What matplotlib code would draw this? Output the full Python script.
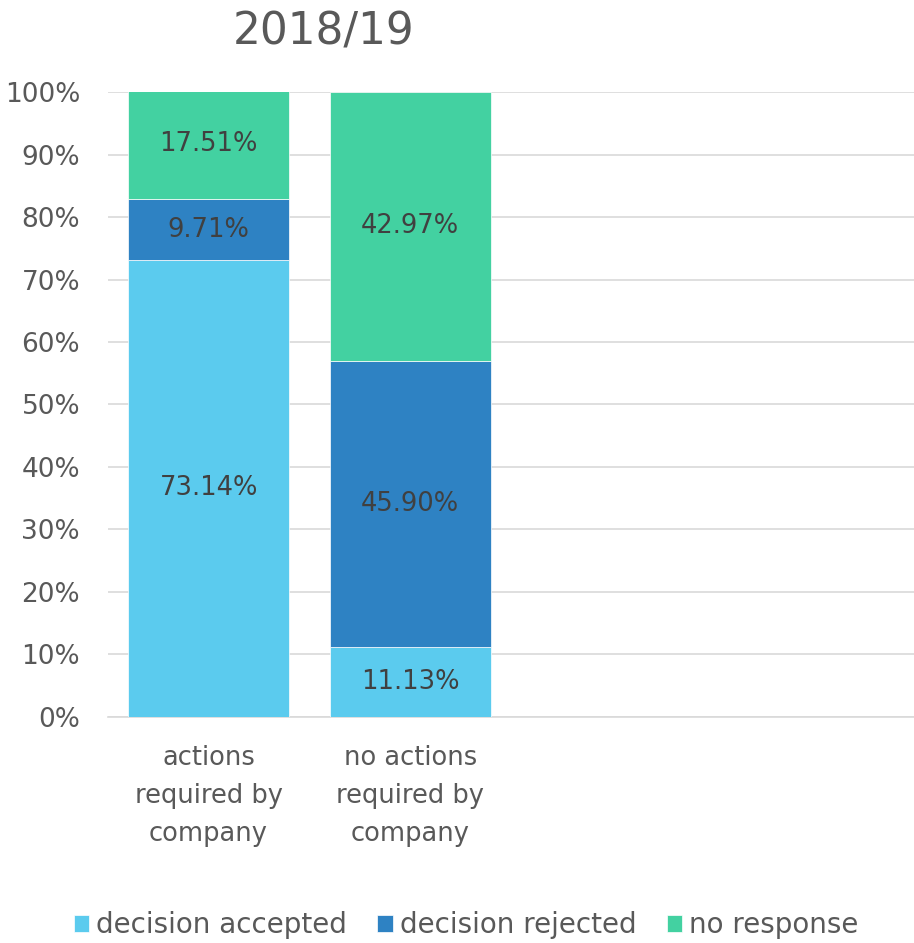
import numpy as np
import matplotlib
matplotlib.use('Agg')
from matplotlib import pyplot as plt
from matplotlib.ticker import FuncFormatter

# data
categories = ["actions\nrequired by\ncompany", "no actions\nrequired by\ncompany", "", ""]
accepted = [73.14, 11.13]
rejected = [9.71, 45.90]
no_response = [17.51, 42.97]
series_names = ["decision accepted", "decision rejected", "no response"]
colors = ["#5BCBEE", "#2E82C3", "#43D1A1"]

plt.rcParams['font.family'] = ['DejaVu Sans']

fig = plt.figure(figsize=(9.14, 9.43), dpi=100)
ax = fig.add_axes([0.118, 0.2397, 0.882, 0.6627])

x = np.arange(len(accepted))
bottom = np.zeros(len(accepted))
for vals, name, c in zip([accepted, rejected, no_response], series_names, colors):
    vals = np.array(vals)
    ax.bar(x, vals, 0.8, bottom=bottom, color=c, label=name, edgecolor="white", linewidth=0.5, zorder=3)
    for xi, b, v in zip(x, bottom, vals):
        ax.text(xi, b + v / 2, "%.2f%%" % v, ha="center", va="center", fontsize=18.5, color="#404040", zorder=4)
    bottom += vals

ax.set_xlim(-0.5, len(categories) - 0.5)
ax.set_ylim(0, 100)
ax.set_yticks(np.arange(0, 101, 10))
ax.yaxis.set_major_formatter(FuncFormatter(lambda v, p: "%d%%" % v))
ax.set_xticks(range(len(categories)))
ax.set_xticklabels(categories, fontsize=18.5, color="#595959", linespacing=1.6)
ax.tick_params(axis="y", labelsize=19, labelcolor="#595959", length=0, pad=20)
ax.tick_params(axis="x", length=0, pad=20)
ax.grid(axis="y", color="#D9D9D9", linewidth=1.2, zorder=0)
for s in ["top", "right", "left"]:
    ax.spines[s].set_visible(False)
ax.spines["bottom"].set_color("#D9D9D9")
ax.spines["bottom"].set_linewidth(1.2)

fig.text(0.354, 0.966, "2018/19", ha="center", va="center", fontsize=31.5, color="#595959")

fig.legend(loc="center", bbox_to_anchor=(0.51, 0.019), ncol=3, frameon=False, fontsize=20,
           handlelength=0.55, handleheight=0.55, handletextpad=0.25, columnspacing=1.1,
           labelcolor="#595959")

fig.savefig("out.png", dpi=100)
